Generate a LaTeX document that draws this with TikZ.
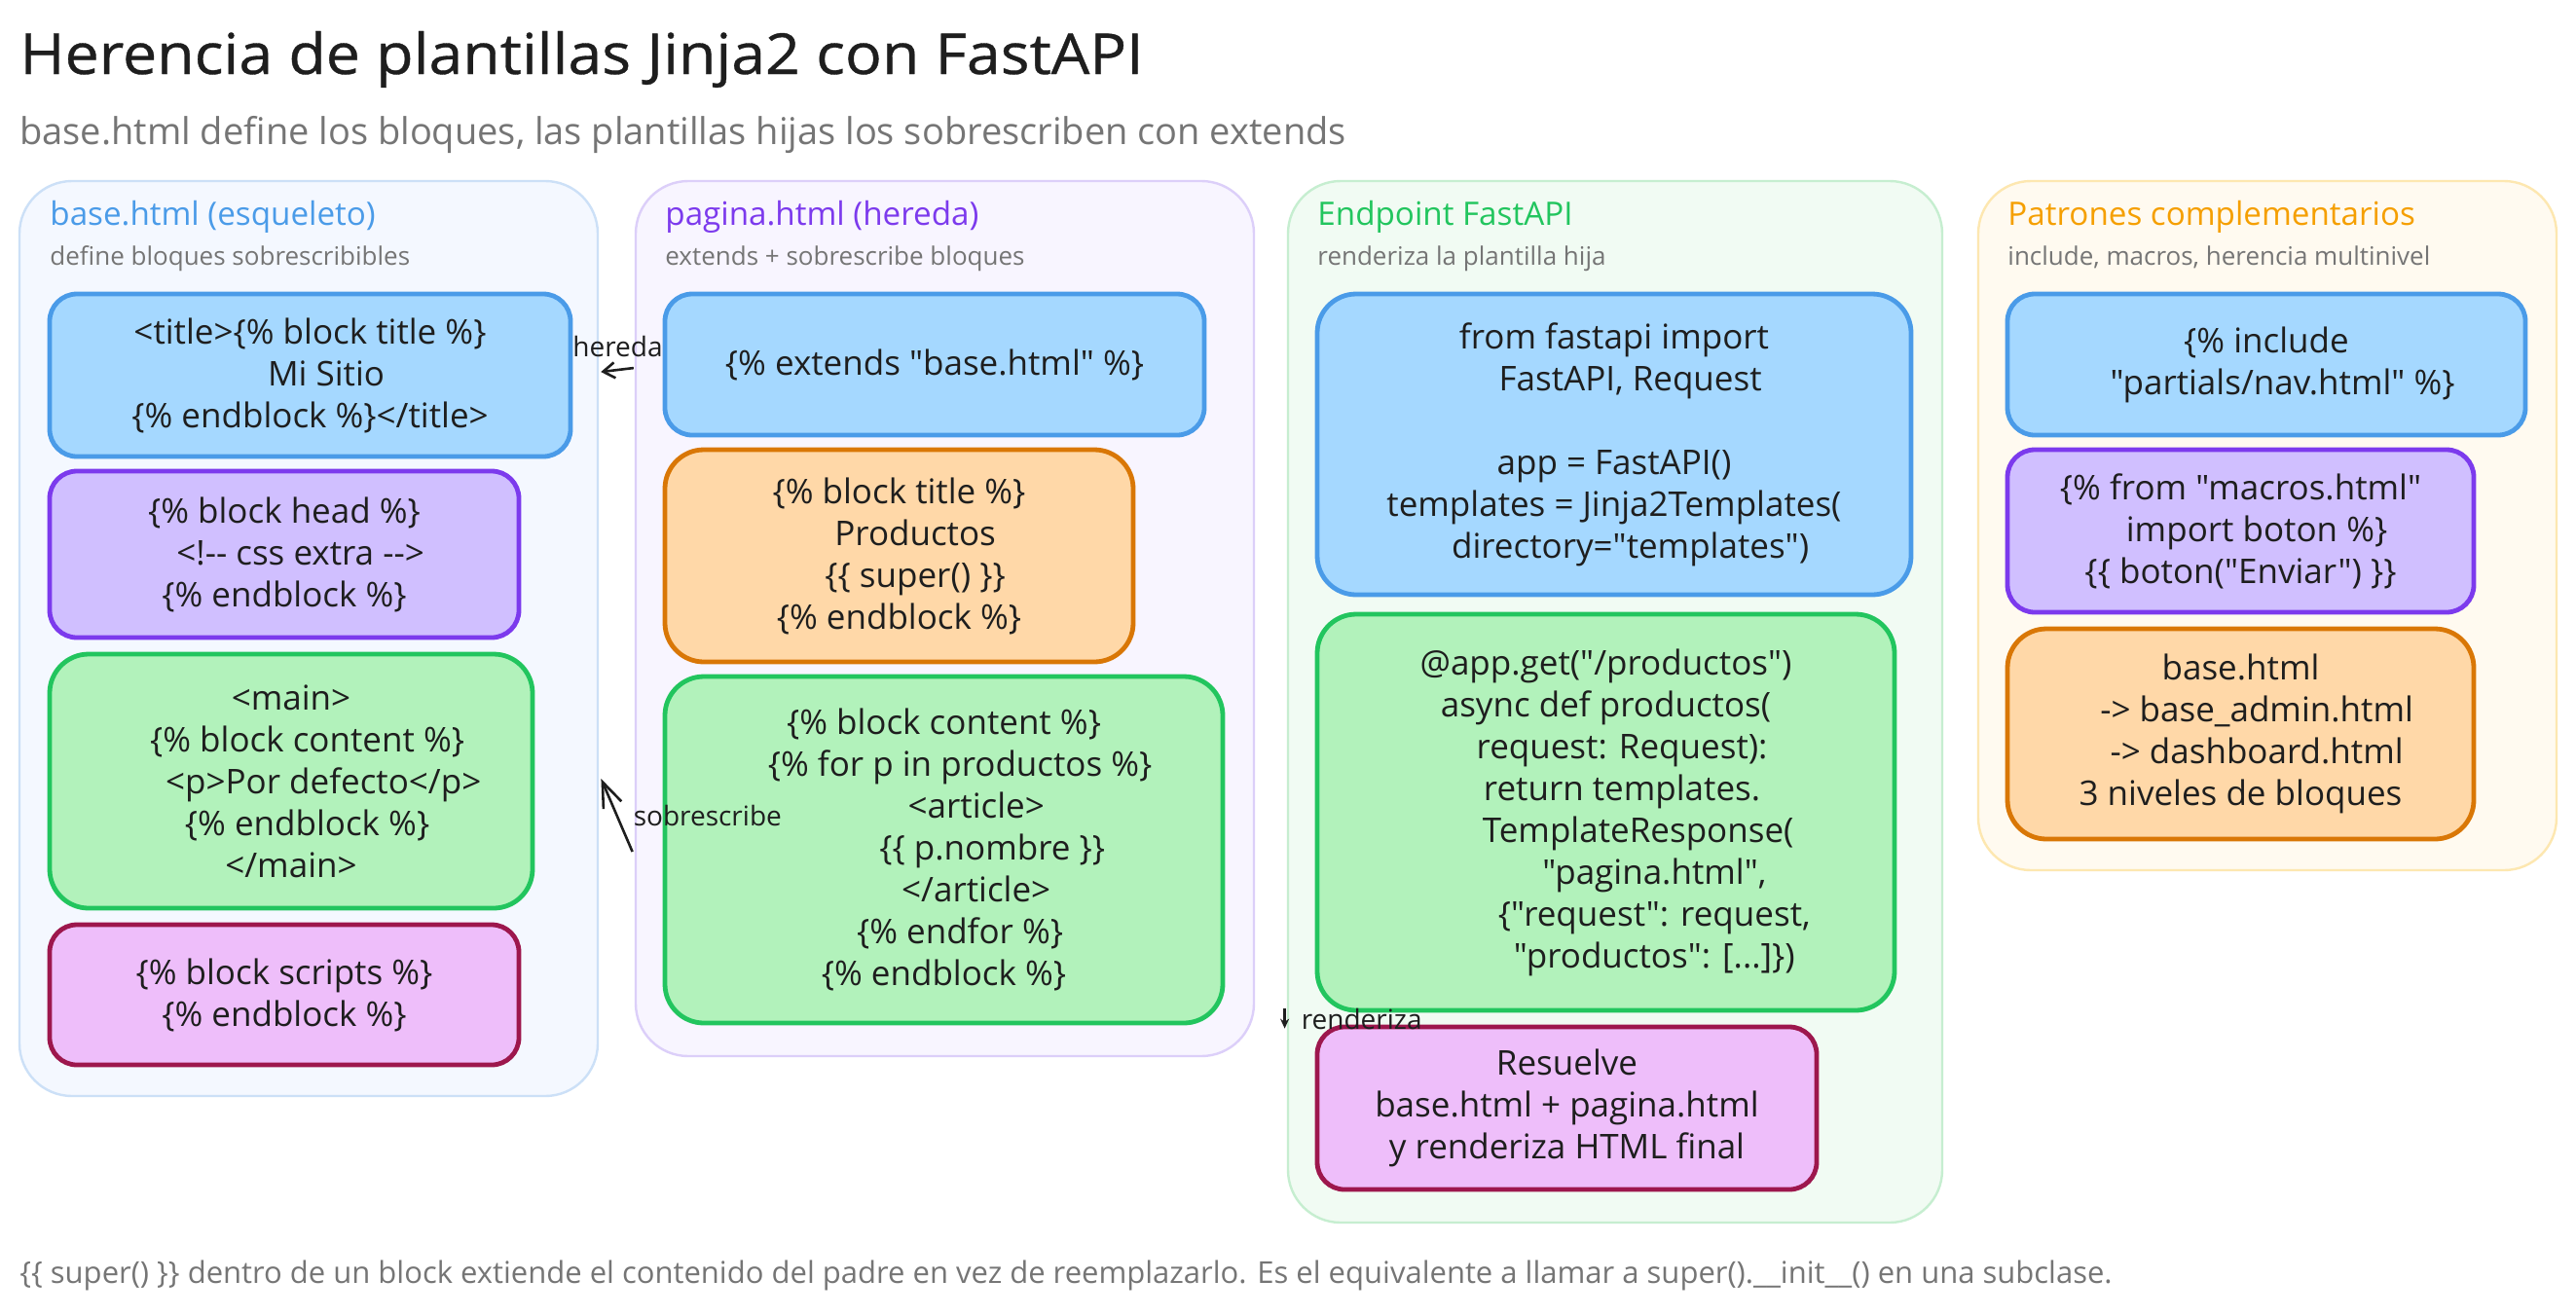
\documentclass[tikz,border=0pt]{standalone}
\usepackage{fontspec}
\setmainfont{Open Sans}[Ligatures=TeXOff]
\newfontfamily\titlefont{Open Sans}[Ligatures=TeXOff,FakeStretch=1.08,FakeBold=0.6]
\usetikzlibrary{arrows.meta,calc}
\definecolor{ink}{HTML}{1E1E1E}
\definecolor{graytxt}{HTML}{757575}
\definecolor{bluefill}{HTML}{A5D8FF}
\definecolor{bluestroke}{HTML}{4A9BE8}
\definecolor{purpfill}{HTML}{D0BFFF}
\definecolor{purpstroke}{HTML}{7C3AED}
\definecolor{greenfill}{HTML}{B2F2BB}
\definecolor{greenstroke}{HTML}{22C55E}
\definecolor{orfill}{HTML}{FFD8A8}
\definecolor{orstroke}{HTML}{D97706}
\definecolor{pinkfill}{HTML}{EEBEFA}
\definecolor{pinkstroke}{HTML}{9D174D}
\definecolor{cAfill}{HTML}{F4F8FF}
\definecolor{cAstroke}{HTML}{CCE0F7}
\definecolor{cBfill}{HTML}{F8F5FF}
\definecolor{cBstroke}{HTML}{DCCFF9}
\definecolor{cCfill}{HTML}{F1FBF3}
\definecolor{cCstroke}{HTML}{C6EED0}
\definecolor{cDfill}{HTML}{FFFAF0}
\definecolor{cDstroke}{HTML}{FDE7B0}
\definecolor{hA}{HTML}{4A9BE8}
\definecolor{hB}{HTML}{7C3AED}
\definecolor{hC}{HTML}{22C55E}
\definecolor{hD}{HTML}{F59F00}
\newlength{\spc}\setlength{\spc}{8.3pt}
\newcommand{\ind}[1]{\hspace*{#1\spc}}
\newcommand{\bodyfont}{\fontsize{17.5}{21.5}\selectfont}
\begin{document}
\begin{tikzpicture}[x=1pt,y=-1pt,
  cont/.style={draw, line width=1.2pt, rounded corners=27pt, inner sep=0pt},
  bx/.style={draw, line width=2.4pt, rounded corners=14pt, align=center, inner sep=0pt, font=\bodyfont, text=ink},
  bigbx/.style={bx, rounded corners=20pt},
  bluebox/.style={fill=bluefill, draw=bluestroke},
  purpbox/.style={fill=purpfill, draw=purpstroke},
  greenbox/.style={fill=greenfill, draw=greenstroke},
  orbox/.style={fill=orfill, draw=orstroke},
  pinkbox/.style={fill=pinkfill, draw=pinkstroke},
  hdr/.style={anchor=base west, inner sep=0pt, font=\fontsize{16.6}{19}\selectfont},
  subhdr/.style={anchor=base west, inner sep=0pt, text=graytxt, font=\fontsize{13}{15}\selectfont},
  lbl/.style={font=\fontsize{14}{16}\selectfont, text=ink, inner sep=1pt},
  conn/.style={draw=ink, line width=1.3pt},
]
\useasboundingbox[fill=white] (0,0) rectangle (1323,675.5);

% title
\node[anchor=base west, inner sep=0pt, text=ink, font=\titlefont\fontsize{29}{34}\selectfont] (title) at (10,38) {Herencia de plantillas Jinja2 con FastAPI};
\node[anchor=base west, inner sep=0pt, text=graytxt, font=\fontsize{19}{22}\selectfont] (subtitle) at (10,74) {base.html define los bloques, las plantillas hijas los sobrescriben con extends};

% containers
\node[cont, fill=cAfill, draw=cAstroke, minimum width=297pt, minimum height=470pt] (contA) at (158.5,328) {};
\node[cont, fill=cBfill, draw=cBstroke, minimum width=317.5pt, minimum height=449.5pt] (contB) at (485.25,317.75) {};
\node[cont, fill=cCfill, draw=cCstroke, minimum width=336pt, minimum height=535pt] (contC) at (829.5,360.5) {};
\node[cont, fill=cDfill, draw=cDstroke, minimum width=297pt, minimum height=354pt] (contD) at (1164.5,270) {};

% headers
\node[hdr, text=hA] (hdrA) at (25.5,115.5) {base.html (esqueleto)};
\node[subhdr] (subA) at (25.5,136) {define bloques sobrescribibles};
\node[hdr, text=hB] (hdrB) at (341.5,115.5) {pagina.html (hereda)};
\node[subhdr] (subB) at (341.5,136) {extends + sobrescribe bloques};
\node[hdr, text=hC] (hdrC) at (676.5,115.5) {Endpoint FastAPI};
\node[subhdr] (subC) at (676.5,136) {renderiza la plantilla hija};
\node[hdr, text=hD] (hdrD) at (1031,115.5) {Patrones complementarios};
\node[subhdr] (subD) at (1031,136) {include, macros, herencia multinivel};

% column A
\node[bx, bluebox, minimum width=267.5pt, minimum height=83.5pt] (A1) at (159.25,192.75)
  {<title>\{\% block title \%\}\\ \ind{2}Mi Sitio\\ \{\% endblock \%\}</title>};
\node[bx, purpbox, minimum width=241pt, minimum height=85.5pt] (A2) at (146,284.75)
  {\{\% block head \%\}\\ \ind{2}<!-- css extra -->\\ \{\% endblock \%\}};
\node[bigbx, greenbox, minimum width=248pt, minimum height=130.5pt] (A3) at (149.5,401.25)
  {<main>\\ \ind{2}\{\% block content \%\}\\ \ind{4}<p>Por defecto</p>\\ \ind{2}\{\% endblock \%\}\\ </main>};
\node[bx, pinkbox, minimum width=241pt, minimum height=72pt] (A4) at (146,511)
  {\{\% block scripts \%\}\\ \{\% endblock \%\}};

% column B
\node[bx, bluebox, minimum width=277pt, minimum height=72.5pt] (B1) at (480,187.25)
  {\{\% extends "base.html" \%\}};
\node[bigbx, orbox, minimum width=240.5pt, minimum height=109pt] (B2) at (461.75,285.5)
  {\{\% block title \%\}\\ \ind{2}Productos\\ \ind{2}\{\{ super() \}\}\\ \{\% endblock \%\}};
\node[bigbx, greenbox, minimum width=286.5pt, minimum height=178pt] (B3) at (484.75,436.5)
  {\{\% block content \%\}\\ \ind{2}\{\% for p in productos \%\}\\ \ind{4}<article>\\ \ind{6}\{\{ p.nombre \}\}\\ \ind{4}</article>\\ \ind{2}\{\% endfor \%\}\\ \{\% endblock \%\}};

% column C
\node[bigbx, bluebox, minimum width=305pt, minimum height=154.5pt] (C1) at (829,228.25)
  {from fastapi import\\ \ind{2}FastAPI, Request\\ ~\\ app = FastAPI()\\ templates = Jinja2Templates(\\ \ind{2}directory="templates")};
\node[bigbx, greenbox, minimum width=296.5pt, minimum height=203.5pt] (C2) at (824.75,417.25)
  {@app.get("/productos")\\ async def productos(\\ \ind{2}request: Request):\\ \ind{2}return templates.\\ \ind{4}TemplateResponse(\\ \ind{6}"pagina.html",\\ \ind{6}\{"request": request,\\ \ind{6}"productos": [...]\})};
\node[bx, pinkbox, minimum width=256.5pt, minimum height=83.5pt] (C3) at (804.75,569.25)
  {Resuelve\\ base.html + pagina.html\\ y renderiza HTML final};

% column D
\node[bx, bluebox, minimum width=266pt, minimum height=72.5pt] (D1) at (1164,187.25)
  {\{\% include\\ \ind{2}"partials/nav.html" \%\}};
\node[bx, purpbox, minimum width=239.5pt, minimum height=83.5pt] (D2) at (1150.75,272.75)
  {\{\% from "macros.html"\\ \ind{2}import boton \%\}\\ \{\{ boton("Enviar") \}\}};
\node[bigbx, orbox, minimum width=239.5pt, minimum height=108pt] (D3) at (1150.75,377)
  {base.html\\ \ind{2}-> base\_admin.html\\ \ind{2}-> dashboard.html\\ 3 niveles de bloques};

% connectors
\draw[conn, -{Straight Barb[length=6pt,width=8pt]}, shorten <=15pt, shorten >=14.5pt]
  (B1.west) -- node[lbl, above=5pt] {hereda} (A1.east);
\draw[conn, -{Straight Barb[length=13pt,width=10pt]}]
  ($(B3.west)+(-15.5,1)$) -- node[lbl, midway, anchor=west, xshift=7pt] {sobrescribe} ($(A3.east)+(34,-1.25)$);
\draw[conn, line width=1.2pt, -{Stealth[length=5pt,width=4.5pt]}, shorten <=-2pt, shorten >=-2pt]
  ($(C2.south west)+(-15.5,0)$) -- node[lbl, midway, anchor=west, xshift=7pt] {renderiza} ($(C3.north west)+(-15.5,0)$);

% footer
\node[anchor=base west, inner sep=0pt, text=graytxt, font=\fontsize{15.5}{18}\selectfont] (footer) at (10,659)
  {\{\{ super() \}\} dentro de un block extiende el contenido del padre en vez de reemplazarlo. Es el equivalente a llamar a super().\_\_init\_\_() en una subclase.};
\end{tikzpicture}
\end{document}
